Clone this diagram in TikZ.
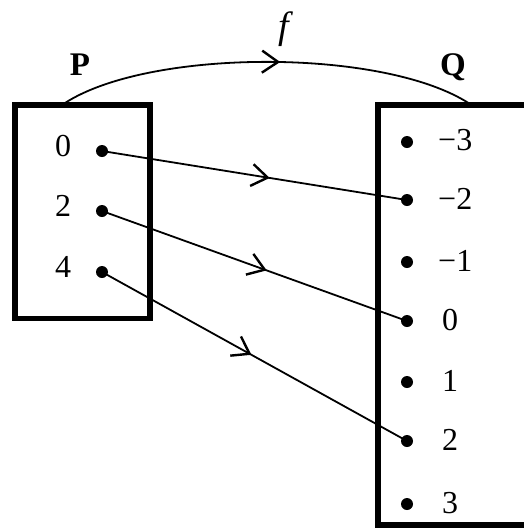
\documentclass[tikz,border=0pt]{standalone}
\usepackage{fontspec}
\setmainfont{Liberation Serif}
\usetikzlibrary{arrows.meta,decorations.markings}
\tikzset{
  setbox/.style={draw=black,line width=5.5pt},
  dot/.style={circle,fill=black,inner sep=0pt,minimum size=12pt},
  conn/.style={draw=black,line width=1.8pt},
  midarrow/.style={postaction={decorate},decoration={markings,
      mark=at position #1 with {\arrow[line width=2.4pt]{Straight Barb[length=16pt,width=22pt]}}}},
  lbl/.style={inner sep=0pt,font=\fontsize{32}{38}\selectfont},
  setname/.style={inner sep=0pt,font=\fontsize{33}{40}\selectfont\bfseries},
}
\begin{document}
\begin{tikzpicture}[x=1pt,y=-1pt]
\useasboundingbox (0,0) rectangle (524,531);
\clip (0,0) rectangle (524,531);
% boxes
\draw[setbox] (15,105) rectangle (150,318.5);
\draw[setbox] (378,105) rectangle (560,525);
% set names
\node[setname,anchor=base] (Pn) at (80,75) {P};
\node[setname,anchor=base] (Qn) at (453,75) {Q};
% P elements
\node[dot] (p0) at (102,151) {};
\node[dot] (p2) at (102,211) {};
\node[dot] (p4) at (102,272) {};
\node[lbl,anchor=base] (lp0) at (63,156) {0};
\node[lbl,anchor=base] (lp2) at (63,216) {2};
\node[lbl,anchor=base] (lp4) at (63,277) {4};
% Q elements
\node[dot] (qm3) at (407,142) {};
\node[dot] (qm2) at (407,200) {};
\node[dot] (qm1) at (407,262) {};
\node[dot] (q0) at (407,321) {};
\node[dot] (q1) at (407,382) {};
\node[dot] (q2) at (407,441) {};
\node[dot] (q3) at (407,504) {};
\node[lbl,anchor=base west] (lqm3) at (438,150) {−3};
\node[lbl,anchor=base west] (lqm2) at (438,209) {−2};
\node[lbl,anchor=base west] (lqm1) at (438,271) {−1};
\node[lbl,anchor=base west] (lq0) at (442,330) {0};
\node[lbl,anchor=base west] (lq1) at (442,391) {1};
\node[lbl,anchor=base west] (lq2) at (442,450) {2};
\node[lbl,anchor=base west] (lq3) at (442,513) {3};
% mapping arrows
\draw[conn,midarrow=0.55] (p0.center) -- (qm2.center);
\draw[conn,midarrow=0.54] (p2.center) -- (q0.center);
\draw[conn,midarrow=0.49] (p4.center) -- (q2.center);
% top curve f
\coordinate (ps) at (65,103);
\coordinate (qs) at (470,104);
\draw[conn,midarrow=0.53] (ps) .. controls (150,48) and (385,48) .. (qs);
\node[inner sep=0pt,anchor=base,font=\fontsize{38}{44}\selectfont\itshape] (fl) at (284,38) {f};
\end{tikzpicture}
\end{document}
